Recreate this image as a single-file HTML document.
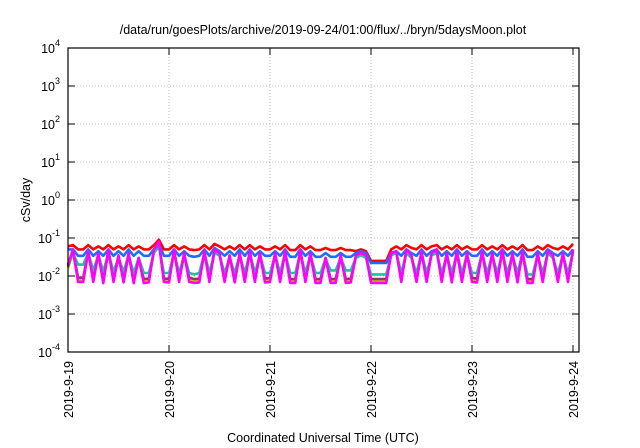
<!DOCTYPE html>
<html><head><meta charset="utf-8"><style>
html,body{margin:0;padding:0;background:#fff;}
svg{display:block;font-family:"Liberation Sans",sans-serif;}
</style></head><body>
<svg id="chart" width="640" height="448" viewBox="0 0 640 448" xmlns="http://www.w3.org/2000/svg">
<rect width="640" height="448" fill="#fff"/>
<text x="323" y="34" text-anchor="middle" font-size="12.5">/data/run/goesPlots/archive/2019-09-24/01:00/flux/../bryn/5daysMoon.plot</text>
<text transform="translate(30,200) rotate(-90)" text-anchor="middle" font-size="12.5">cSv/day</text>
<text x="323" y="442" text-anchor="middle" font-size="12.5">Coordinated Universal Time (UTC)</text>
<g id="grid"></g>
<g id="series"></g>
<g id="axes"></g>
</svg>
<script>
const xTickLabels = ["2019-9-19","2019-9-20","2019-9-21","2019-9-22","2019-9-23","2019-9-24"];
const yTickExps = [-4,-3,-2,-1,0,1,2,3,4];
const timeStep = 0.05; // days per sample
const red = [.06,.065,.05,.05,.065,.05,.06,.05,.065,.05,.06,.05,.065,.05,.06,.05,.05,.065,.09,.05,
 .05,.065,.05,.06,.05,.048,.05,.065,.05,.07,.06,.05,.06,.05,.065,.05,.065,.05,.06,.05,
 .05,.06,.05,.065,.048,.048,.065,.05,.06,.048,.048,.055,.048,.048,.055,.048,.048,.045,.05,.045,
 .025,.025,.025,.025,.05,.06,.05,.065,.055,.05,.065,.05,.06,.065,.05,.06,.05,.065,.05,.06,
 .05,.05,.065,.05,.06,.05,.065,.05,.06,.05,.065,.048,.048,.06,.05,.065,.055,.05,.06,.05,.07];
const blue = [.05,.05,.034,.034,.05,.034,.045,.034,.05,.034,.045,.034,.05,.034,.045,.034,.034,.05,.07,.034,
 .034,.05,.034,.045,.034,.032,.034,.05,.034,.055,.045,.034,.045,.034,.05,.034,.05,.034,.045,.034,
 .034,.045,.034,.05,.032,.032,.05,.034,.045,.032,.032,.04,.032,.032,.04,.032,.032,.04,.045,.04,
 .022,.022,.022,.022,.04,.045,.034,.05,.04,.034,.05,.034,.045,.05,.034,.045,.034,.05,.034,.045,
 .034,.034,.05,.034,.045,.034,.05,.034,.045,.034,.05,.032,.032,.045,.034,.05,.04,.034,.045,.034,.05];
const teal = [.02,.04,.02,.02,.04,.014,.035,.013,.04,.013,.03,.013,.035,.012,.03,.012,.012,.04,.06,.012,
 .012,.04,.012,.035,.012,.011,.012,.04,.012,.04,.035,.012,.03,.012,.035,.012,.04,.012,.035,.012,
 .012,.035,.012,.04,.012,.012,.04,.012,.035,.012,.012,.028,.014,.014,.03,.014,.014,.03,.035,.03,
 .011,.011,.011,.011,.035,.04,.012,.04,.03,.012,.04,.012,.035,.04,.012,.035,.012,.04,.012,.035,
 .012,.012,.04,.012,.035,.012,.04,.012,.035,.012,.04,.011,.011,.035,.012,.04,.03,.012,.035,.012,.04];
const purple = [.018,.045,.009,.009,.042,.009,.038,.0085,.045,.009,.033,.0085,.038,.0083,.03,.0083,.0085,.045,.075,.0085,
 .0085,.045,.009,.038,.009,.0083,.0085,.042,.009,.045,.038,.009,.033,.0085,.038,.009,.042,.009,.038,.0085,
 .009,.038,.009,.042,.0083,.0083,.045,.009,.038,.0083,.0083,.03,.0083,.0083,.033,.0083,.0085,.033,.038,.033,
 .0083,.0083,.0083,.0083,.038,.042,.009,.045,.033,.009,.042,.009,.038,.045,.009,.038,.0085,.042,.009,.038,
 .009,.0085,.042,.009,.038,.009,.045,.009,.038,.0085,.042,.0083,.0083,.038,.009,.042,.033,.009,.038,.009,.045];
const yellow = [.016,.042,.008,.008,.04,.008,.036,.0076,.042,.008,.031,.0076,.036,.0075,.028,.0075,.0076,.042,.07,.0076,
 .0076,.042,.008,.036,.008,.0075,.0076,.04,.008,.042,.036,.008,.031,.0076,.036,.008,.04,.008,.036,.0076,
 .008,.036,.008,.04,.0075,.0075,.042,.008,.036,.0075,.0075,.028,.0075,.0075,.031,.0075,.0076,.031,.036,.031,
 .0075,.0075,.0075,.0075,.036,.04,.008,.042,.031,.008,.04,.008,.036,.042,.008,.036,.0076,.04,.008,.036,
 .008,.0076,.04,.008,.036,.008,.042,.008,.036,.0076,.04,.0075,.0075,.036,.008,.04,.031,.008,.036,.008,.042];
const magenta = [.02,.05,.007,.007,.045,.007,.04,.0065,.05,.007,.035,.0068,.04,.0065,.03,.0065,.0068,.05,.08,.007,
 .0068,.05,.007,.04,.007,.0066,.0068,.045,.007,.05,.04,.007,.035,.0068,.04,.007,.045,.007,.04,.0068,
 .007,.04,.007,.045,.0066,.0066,.05,.007,.04,.0066,.0066,.03,.0066,.0066,.035,.0066,.0068,.035,.04,.035,
 .0066,.0066,.0066,.0066,.04,.045,.007,.05,.035,.007,.045,.007,.04,.05,.007,.04,.0068,.045,.007,.04,
 .007,.0068,.045,.007,.04,.007,.05,.007,.04,.0068,.045,.0066,.0066,.04,.007,.045,.035,.007,.04,.007,.05];

const NS="http://www.w3.org/2000/svg";
const L=68,R=579,T=48,B=352,DAY=101;
const xs=d=>L+d*DAY;
const ys=v=>B-(Math.log10(v)+4)*((B-T)/8);
function mk(tag,attrs,parent){const e=document.createElementNS(NS,tag);for(const k in attrs)e.setAttribute(k,attrs[k]);parent.appendChild(e);return e;}
const grid=document.getElementById('grid'),axes=document.getElementById('axes'),ser=document.getElementById('series');
yTickExps.forEach(e=>{
  const y=ys(Math.pow(10,e));
  if(e>-4&&e<4){const g=mk('line',{x1:L,x2:R,y1:y,y2:y,stroke:'#bbb','stroke-width':1,'stroke-dasharray':'1,2'},grid);
  
  }
  const t1=mk('line',{x1:L,x2:L+7,y1:y,y2:y,stroke:'#000','stroke-width':1},axes);
  
  
  const t2=mk('line',{x1:R-7,x2:R,y1:y,y2:y,stroke:'#000','stroke-width':1},axes);
  
  
  const tx=mk('text',{x:L-8,y:y+5,'text-anchor':'end','font-size':12.5},axes);
  
  
  tx.textContent='10';
  const sp=mk('tspan',{dy:-7,'font-size':9},tx);sp.textContent=String(e);
});
xTickLabels.forEach((lab,i)=>{
  const x=xs(i);
  if(i>0){const g=mk('line',{x1:x,x2:x,y1:T,y2:B,stroke:'#bbb','stroke-width':1,'stroke-dasharray':'1,2'},grid);
  
  }
  const t1=mk('line',{x1:x,x2:x,y1:B-7,y2:B,stroke:'#000','stroke-width':1},axes);
  
  
  const t2=mk('line',{x1:x,x2:x,y1:T,y2:T+7,stroke:'#000','stroke-width':1},axes);
  
  
  const tx=mk('text',{transform:`translate(${x+5},${B+9}) rotate(-90)`,'text-anchor':'end','font-size':12.5},axes);
  
  
  tx.textContent=lab;
});
const fr=mk('rect',{x:L,y:T,width:R-L,height:B-T,fill:'none',stroke:'#000','stroke-width':1.2},axes);


const list=[['yellow',yellow,'#e0c000'],['purple',purple,'#8b3a62'],['teal',teal,'#20c0a0'],['red',red,'#ff0000'],['blue',blue,'#1a6fff'],['magenta',magenta,'#ff00ff']];
list.forEach(([n,arr,c])=>{
  const d=arr.map((v,i)=>(i?'L':'M')+xs(i*timeStep).toFixed(1)+','+ys(v).toFixed(1)).join('');
  const p=mk('path',{d:d,fill:'none',stroke:c,'stroke-width':2.6,'stroke-linejoin':'round'},ser);
  
  
});
</script>
</body></html>
